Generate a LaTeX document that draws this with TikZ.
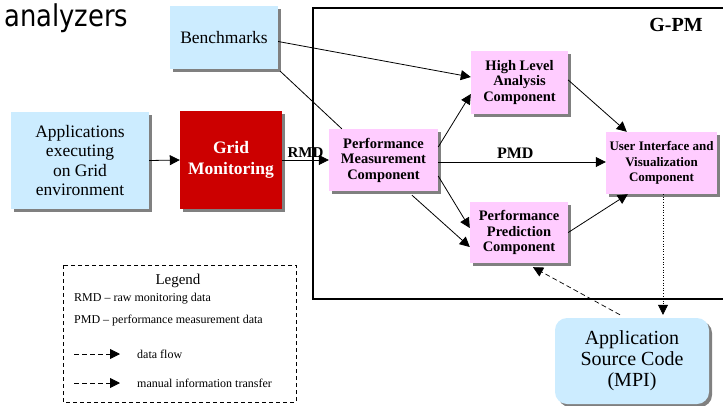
\documentclass[tikz,border=0pt]{standalone}
\usepackage{fontspec}
\setmainfont{Liberation Serif}
\newfontfamily\titlefont[FakeStretch=0.86]{DejaVu Sans}
\usetikzlibrary{arrows.meta,shadows,calc}
\definecolor{paleblue}{RGB}{204,236,255}
\definecolor{palepink}{RGB}{255,204,255}
\definecolor{gridred}{RGB}{204,0,0}
\tikzset{
  box/.style={inner sep=0pt, align=center,
    drop shadow={shadow xshift=3pt, shadow yshift=-3pt, fill=gray, opacity=1}},
  bluebox/.style={box, fill=paleblue, font=\fontsize{17.5}{19.5}\selectfont},
  pinkbox/.style={box, fill=palepink, font=\fontsize{14.5}{15.5}\selectfont\bfseries},
  arr/.style={line width=0.8pt, -{Triangle[length=10pt,width=10pt]}},
  plain/.style={line width=0.8pt},
  dflow/.style={line width=0.8pt, dash pattern=on 5pt off 3pt, -{Triangle[length=10pt,width=10pt]}},
  legtext/.style={anchor=west, inner sep=0pt, font=\fontsize{12}{14}\selectfont},
}
\begin{document}
\begin{tikzpicture}[x=1pt, y=-1pt]
\useasboundingbox (0,0) rectangle (723,405);

% slide title fragment
\node[anchor=base west, inner sep=0pt, font=\titlefont\fontsize{30}{32}\selectfont] (title) at (4,26) {analyzers};

% G-PM frame
\draw[line width=2.5pt] (313,8) rectangle (745,299);
\node[font=\fontsize{20}{22}\selectfont\bfseries, inner sep=0pt] (gpm) at (676,25) {G-PM};

% outer boxes
\node[bluebox, minimum width=108pt, minimum height=63pt] (bench) at (224,37.5) {Benchmarks};
\node[bluebox, minimum width=138pt, minimum height=97pt] (apps) at (80,160.5)
  {Applications\\executing\\on Grid\\environment};
\node[box, fill=gridred, text=white, font=\fontsize{17.5}{21}\selectfont\bfseries,
  minimum width=102pt, minimum height=98pt] (grid) at (231,160) {Grid\\Monitoring};

% G-PM components
\node[pinkbox, minimum width=109pt, minimum height=62pt] (pmc) at (383.5,160)
  {Performance\\Measurement\\Component};
\node[pinkbox, minimum width=97pt, minimum height=63pt] (hla) at (519.5,82.5)
  {High Level\\Analysis\\Component};
\node[pinkbox, minimum width=98pt, minimum height=61pt] (ppc) at (519,232.5)
  {Performance\\Prediction\\Component};
\node[pinkbox, font=\fontsize{13}{15.5}\selectfont\bfseries,
  minimum width=111pt, minimum height=62pt] (ui) at (661.5,163)
  {User Interface and\\Visualization\\Component};

% application source
\node[box, fill=paleblue, rounded corners=12pt, font=\fontsize{20}{21}\selectfont,
  minimum width=154pt, minimum height=86pt] (asc) at (632,361)
  {Application\\Source Code\\(MPI)};

% connectors
\draw[arr] (apps.east) -- (grid.west);
\draw[arr] (grid.east) -- (pmc.west)
  node[pos=0.5, above=2pt, inner sep=0pt, font=\fontsize{15}{16}\selectfont\bfseries] (rmd) {RMD};
\draw[arr] (pmc.east |- 0,162) -- (ui.west |- 0,162)
  node[pos=0.46, above=3pt, inner sep=0pt, font=\fontsize{16}{17}\selectfont\bfseries] (pmd) {PMD};
\draw[arr] ($(bench.east)+(0,4)$) -- ($(hla.west)+(0,-5.5)$);
\draw[plain] ($(bench.south east)+(2,2)$) -- ($(pmc.north west)+(13,0)$);
\draw[arr] ($(pmc.east)+(0,-13)$) -- ($(hla.west)+(0,11.5)$);
\draw[arr] ($(pmc.east)+(0,16)$) -- ($(ppc.west)+(0,-4.5)$);
\draw[arr] ($(pmc.south)+(28.5,4)$) -- ($(ppc.west)+(0,14.5)$);
\draw[arr] ($(hla.east)+(0,-2.5)$) -- ($(ui.north west)+(21,0)$);
\draw[arr] (ppc.east) -- ($(ui.south west)+(22,0)$);
\draw[line width=0.6pt, dotted, -{Triangle[length=10pt,width=10pt]}]
  ($(ui.south)+(1.5,0)$) -- ($(asc.north)+(31,-3)$);
\draw[dflow, line width=0.7pt] ($(asc.north)+(-12,-3)$) -- ($(ppc.south)+(14,4)$);

% legend
\draw[line width=0.7pt, dash pattern=on 4pt off 3pt] (63,265) rectangle (296,402);
\node[inner sep=0pt, font=\fontsize{15}{16}\selectfont] (legtitle) at (178,281) {Legend};
\node[legtext] (leg1) at (74,299) {RMD -- raw monitoring data};
\node[legtext] (leg2) at (74,321) {PMD -- performance measurement data};
\coordinate (df0) at (74,354);
\coordinate (df1) at (120,354);
\coordinate (mt0) at (74,383);
\coordinate (mt1) at (120,383);
\draw[dflow] (df0) -- (df1);
\draw[dflow] (mt0) -- (mt1);
\node[legtext] (leg3) at (137,354) {data flow};
\node[legtext] (leg4) at (137,383) {manual information transfer};
\end{tikzpicture}
\end{document}
